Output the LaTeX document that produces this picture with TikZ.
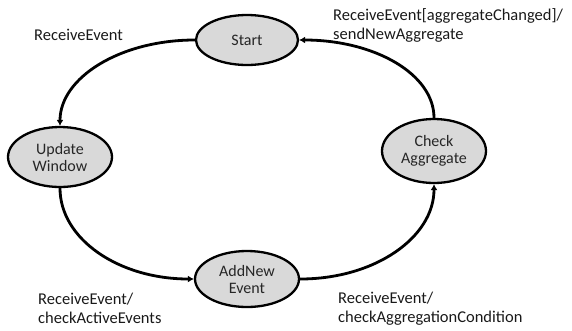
\documentclass[tikz,border=0pt]{standalone}
\usepackage{fontspec}
\setmainfont{Carlito}
\usetikzlibrary{arrows.meta,shapes.geometric}
\begin{document}
\begin{tikzpicture}[x=1pt,y=-1pt,
  state/.style={ellipse,draw=black,line width=2.3pt,fill=black!15,inner sep=0pt,
    align=center,font=\fontsize{16}{17}\selectfont,text=black!85},
  trans/.style={line width=2.8pt,-{Latex[length=6pt,width=7pt]}},
  lbl/.style={anchor=west,align=left,inner sep=0pt,font=\fontsize{16.5}{19}\selectfont,text=black!90}]
\useasboundingbox (0,0) rectangle (572,330);
\node[state,minimum width=102pt,minimum height=50pt] (start) at (247,40) {Start};
\node[state,minimum width=104pt,minimum height=60pt] (upd) at (60,157) {Update\\Window};
\node[state,minimum width=104pt,minimum height=64pt] (chk) at (434,151) {Check\\Aggregate};
\node[state,minimum width=104pt,minimum height=56pt] (add) at (247,279) {AddNew\\Event};
\draw[trans] (start.west) .. controls +(-75,0) and +(0,-48) .. (upd.north);
\draw[trans] (upd.south) .. controls +(0,51) and +(-75,0) .. (add.west);
\draw[trans] (add.east) .. controls +(75,0) and +(0,53) .. (chk.south);
\draw[trans] (chk.north) .. controls +(0,-44) and +(75,0) .. (start.east);
\node[lbl] (l1) at (34,35) {ReceiveEvent};
\node[lbl] (l2) at (333,25) {ReceiveEvent[aggregateChanged]/\\sendNewAggregate};
\node[lbl] (l3) at (38,308) {ReceiveEvent/\\checkActiveEvents};
\node[lbl] (l4) at (338,309) {ReceiveEvent/\\checkAggregationCondition};
\end{tikzpicture}
\end{document}
